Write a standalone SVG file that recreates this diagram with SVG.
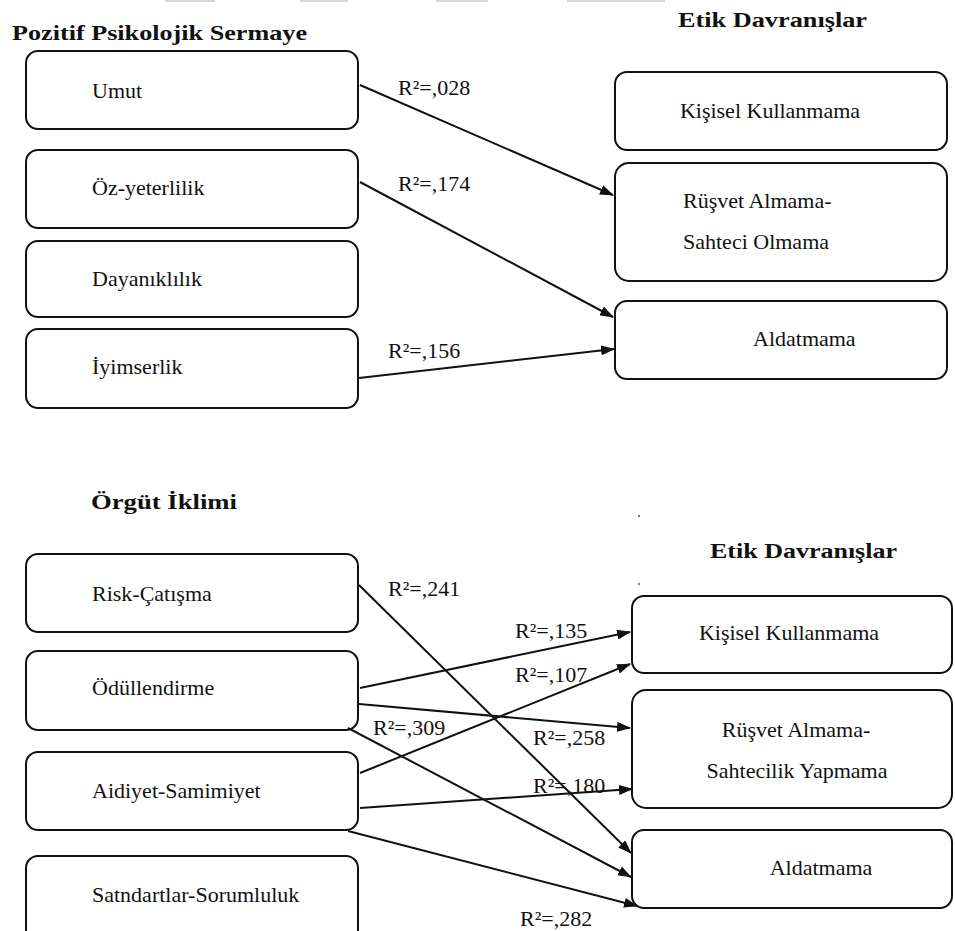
<svg xmlns="http://www.w3.org/2000/svg" width="955" height="931" viewBox="0 0 955 931">
  <style>
    .box { fill: #ffffff; stroke: #111111; stroke-width: 2; }
    text { font-family: 'Times New Roman', 'Liberation Serif', Tinos, 'DejaVu Serif', serif; fill: #111111; }
    .lbl { font-size: 22px; }
    .ttl { font-size: 22px; font-weight: bold; }
    .mid { text-anchor: middle; }
    .edge { fill: none; stroke: #111111; stroke-width: 2; marker-end: url(#arrow); }
  </style>
  <defs>
    <marker id="arrow" markerUnits="userSpaceOnUse" markerWidth="14" markerHeight="10" refX="13" refY="5" orient="auto">
      <path d="M0,0 L14,5 L0,10 Z" fill="#111111"/>
    </marker>
  </defs>

  <rect width="955" height="931" fill="#ffffff"/>

  <!-- faint strips along the top edge -->
  <g fill="#d8d8d8">
    <rect x="165" y="0" width="50" height="2"/>
    <rect x="300" y="0" width="48" height="2"/>
    <rect x="436" y="0" width="52" height="2"/>
    <rect x="567" y="0" width="98" height="2"/>
  </g>

  <!-- section headings -->
  <g id="headings">
    <text class="ttl" x="12" y="40" textLength="295" lengthAdjust="spacingAndGlyphs">Pozitif Psikolojik Sermaye</text>
    <text class="ttl" x="678" y="27" textLength="189" lengthAdjust="spacingAndGlyphs">Etik Davranışlar</text>
    <text class="ttl" x="91" y="509" textLength="146" lengthAdjust="spacingAndGlyphs">Örgüt İklimi</text>
    <text class="ttl" x="710" y="558" textLength="187" lengthAdjust="spacingAndGlyphs">Etik Davranışlar</text>
  </g>

  <!-- upper model: psychological capital -->
  <g id="umut"><rect class="box" x="26" y="51" width="332" height="78" rx="12"/><text class="lbl" x="92" y="98">Umut</text></g>
  <g id="oz-yeterlilik"><rect class="box" x="26" y="150" width="332" height="78" rx="12"/><text class="lbl" x="92" y="195">Öz-yeterlilik</text></g>
  <g id="dayaniklilik"><rect class="box" x="26" y="241" width="332" height="76" rx="12"/><text class="lbl" x="92" y="286">Dayanıklılık</text></g>
  <g id="iyimserlik"><rect class="box" x="26" y="329" width="332" height="79" rx="12"/><text class="lbl" x="92" y="374">İyimserlik</text></g>

  <g id="kisisel-1"><rect class="box" x="615" y="72" width="332" height="78" rx="12"/><text class="lbl mid" x="770" y="118">Kişisel Kullanmama</text></g>
  <g id="rusvet-1"><rect class="box" x="615" y="163" width="332" height="118" rx="14"/><text class="lbl" x="683" y="208">Rüşvet Almama-</text><text class="lbl" x="683" y="249">Sahteci Olmama</text></g>
  <g id="aldatmama-1"><rect class="box" x="615" y="301" width="332" height="78" rx="12"/><text class="lbl" x="753" y="346">Aldatmama</text></g>

  <!-- lower model: organisational climate -->
  <g id="risk"><rect class="box" x="26" y="554" width="332" height="78" rx="12"/><text class="lbl" x="92" y="601">Risk-Çatışma</text></g>
  <g id="odul"><rect class="box" x="26" y="651" width="332" height="79" rx="12"/><text class="lbl" x="92" y="695">Ödüllendirme</text></g>
  <g id="aidiyet"><rect class="box" x="26" y="752" width="332" height="78" rx="12"/><text class="lbl" x="92" y="798">Aidiyet-Samimiyet</text></g>
  <g id="standart"><rect class="box" x="26" y="856" width="332" height="90" rx="12"/><text class="lbl" x="92" y="902">Satndartlar-Sorumluluk</text></g>

  <g id="kisisel-2"><rect class="box" x="632" y="596" width="320" height="77" rx="12"/><text class="lbl mid" x="789" y="640">Kişisel Kullanmama</text></g>
  <g id="rusvet-2"><rect class="box" x="632" y="690" width="320" height="118" rx="14"/><text class="lbl mid" x="796" y="737">Rüşvet Almama-</text><text class="lbl mid" x="797" y="778">Sahtecilik Yapmama</text></g>
  <g id="aldatmama-2"><rect class="box" x="632" y="830" width="320" height="78" rx="12"/><text class="lbl mid" x="821" y="875">Aldatmama</text></g>

  <!-- connectors -->
  <g id="connectors">
    <line class="edge" x1="360" y1="85" x2="613" y2="195"/>
    <line class="edge" x1="360" y1="182" x2="613" y2="317"/>
    <line class="edge" x1="359" y1="378" x2="614" y2="349"/>

    <line class="edge" x1="359" y1="585" x2="631" y2="853"/>
    <line class="edge" x1="360" y1="688" x2="630" y2="632"/>
    <line class="edge" x1="360" y1="773" x2="630" y2="664"/>
    <line class="edge" x1="359" y1="704" x2="630" y2="728"/>
    <line class="edge" x1="360" y1="808" x2="632" y2="789"/>
    <line class="edge" x1="348" y1="728" x2="631" y2="877"/>
    <line class="edge" x1="348" y1="831" x2="637" y2="906"/>
  </g>

  <!-- path coefficients -->
  <g id="edge-labels">
    <text class="lbl" x="398" y="95">R²=,028</text>
    <text class="lbl" x="398" y="191">R²=,174</text>
    <text class="lbl" x="388" y="358">R²=,156</text>
    <text class="lbl" x="388" y="596">R²=,241</text>
    <text class="lbl" x="515" y="638">R²=,135</text>
    <text class="lbl" x="515" y="682">R²=,107</text>
    <text class="lbl" x="373" y="735">R²=,309</text>
    <text class="lbl" x="533" y="745">R²=,258</text>
    <text class="lbl" x="533" y="793">R²=,180</text>
    <text class="lbl" x="520" y="926">R²=,282</text>
  </g>

  <!-- specks -->
  <g fill="#555555">
    <circle cx="639" cy="516" r="1"/>
    <circle cx="639" cy="584" r="1"/>
  </g>
</svg>
